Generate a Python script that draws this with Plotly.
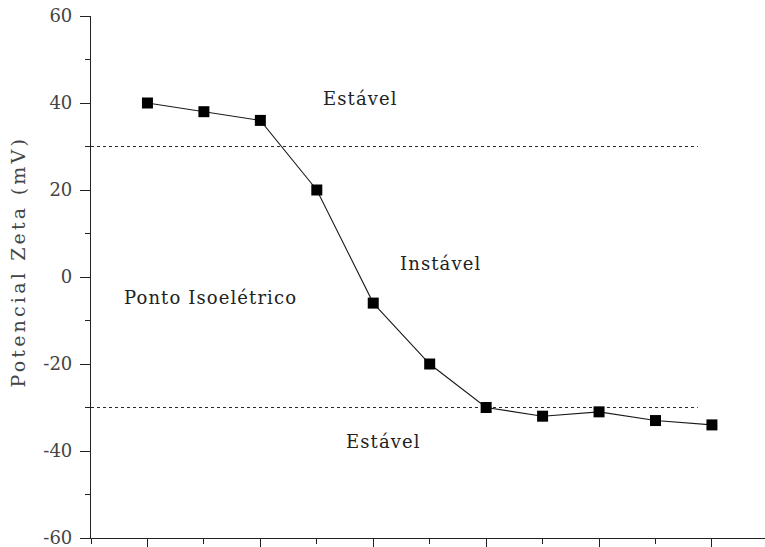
import plotly.graph_objects as go

# pH values and measured zeta potential (mV)
ph = [2, 3, 4, 5, 6, 7, 8, 9, 10, 11, 12]
zeta = [40, 38, 36, 20, -6, -20, -30, -32, -31, -33, -34]

# stability thresholds (mV)
thresholds = [30, -30]

# y-axis ticks
y_ticks = [-60, -40, -20, 0, 20, 40, 60]
y_tick_text = ["-60", "-40", "-20", "0", "20", "40", "60"]

SERIF = "DejaVu Serif"


def spaced(text, px):
    return f'<span style="letter-spacing:{px}px">{text}</span>'


fig = go.Figure()

for t in thresholds:
    fig.add_trace(go.Scatter(
        x=[1, 11.75], y=[t, t], mode="lines",
        line=dict(color="#2a2a2a", width=1, dash="3px,3px"),
        hoverinfo="skip", showlegend=False,
    ))

fig.add_trace(go.Scatter(
    x=ph, y=zeta, mode="lines+markers",
    line=dict(color="#1a1a1a", width=1.1),
    marker=dict(symbol="square", size=11, color="black"),
    showlegend=False,
))

label_font = dict(family=SERIF, size=18, color="#222222")
labels = [
    ("Estável", 5.77, 41.0),
    ("Instável", 7.19, 3.2),
    ("Ponto Isoelétrico", 3.12, -4.6),
    ("Estável", 6.19, -37.7),
]
for text, x, y in labels:
    fig.add_annotation(x=x, y=y, text=spaced(text, 1.1), showarrow=False,
                       font=label_font, xanchor="center", yanchor="middle")

# y-axis title, set as rotated text left of the axis
fig.add_annotation(
    xref="paper", yref="paper", x=-0.108, y=0.53,
    text=spaced("Potencial Zeta (mV)", 3.2), textangle=-90, showarrow=False,
    font=dict(family=SERIF, size=19, color="#444444"),
    xanchor="center", yanchor="middle",
)

fig.update_layout(
    width=765, height=547,
    margin=dict(l=91, r=0, t=16, b=9),
    paper_bgcolor="white", plot_bgcolor="white",
    showlegend=False,
)

fig.update_xaxes(
    range=[1, 12.94], showgrid=False, zeroline=False,
    showline=True, linecolor="#222222", linewidth=1.2,
    ticks="outside", ticklen=10, tickwidth=1.2, tickcolor="#222222",
    tick0=2, dtick=2, showticklabels=False,
    minor=dict(ticks="outside", ticklen=5, tickwidth=1.2, tickcolor="#222222",
               tick0=1, dtick=1),
)

fig.update_yaxes(
    range=[-60, 60], showgrid=False, zeroline=False,
    showline=True, linecolor="#222222", linewidth=1.2,
    ticks="outside", ticklen=10, tickwidth=1.2, tickcolor="#222222",
    tickmode="array", tickvals=y_ticks, ticktext=y_tick_text,
    tickfont=dict(family=SERIF, size=18, color="#444444"),
    ticklabelstandoff=4, ticklabeloverflow="allow",
    minor=dict(ticks="outside", ticklen=5, tickwidth=1.2, tickcolor="#222222",
               tickmode="array", tickvals=[-50, -30, -10, 10, 30, 50]),
)

fig.write_html("out.html")
